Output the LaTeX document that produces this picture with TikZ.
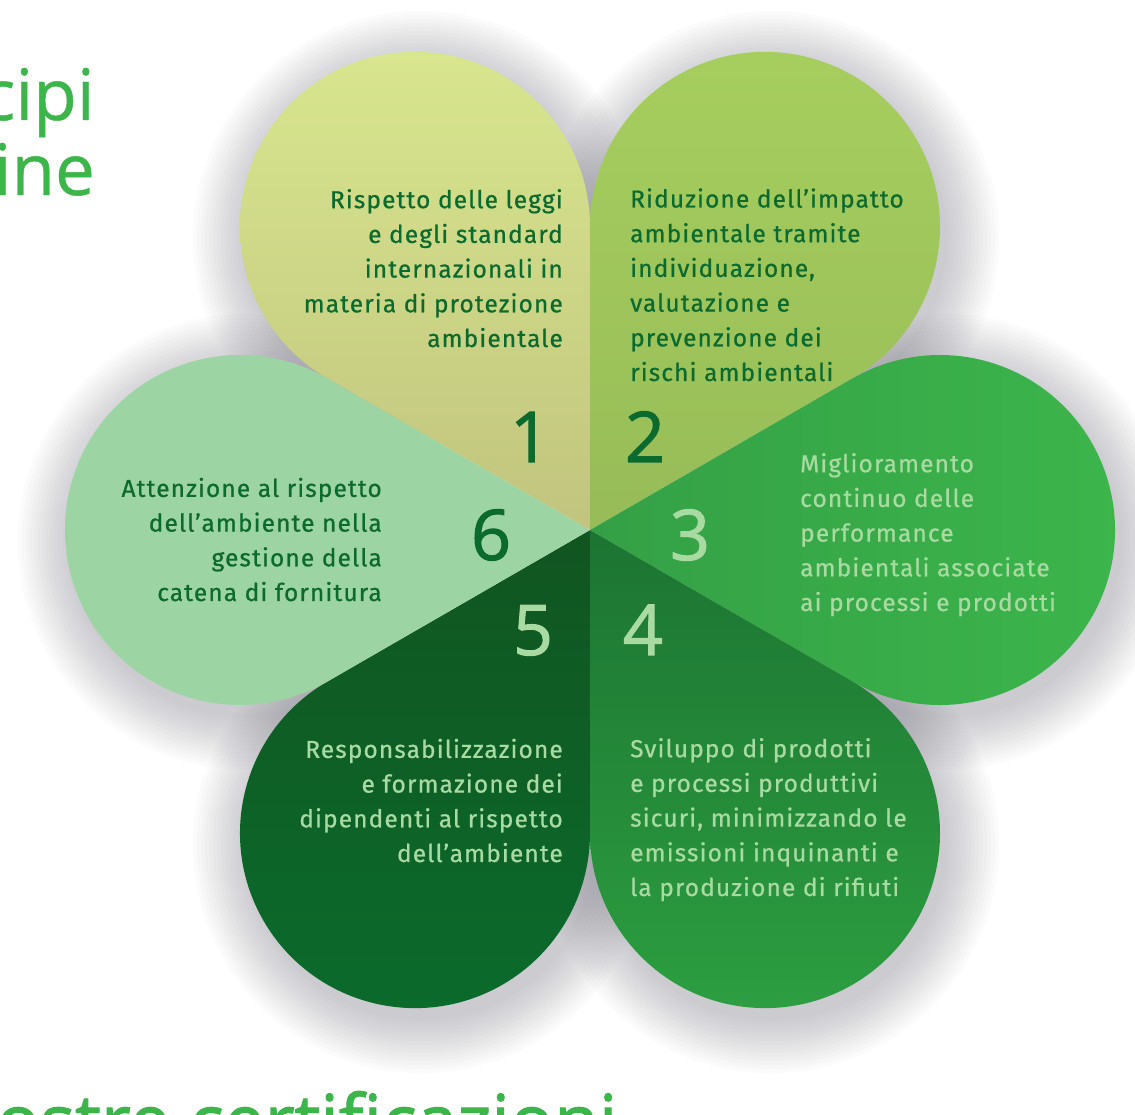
\documentclass[tikz,border=0pt]{standalone}
\usepackage{fontspec}
\setmainfont{Fira Sans}[LetterSpace=4.5, FakeBold=0.7]
\newfontfamily\numfont{Open Sans}[FakeBold=1.5]
\newfontfamily\titlefont{Open Sans}[FakeBold=0.6]
\usetikzlibrary{calc}
\definecolor{titlegreen}{HTML}{3CB54A}
\definecolor{darktext}{HTML}{0B6A2E}
\definecolor{lighttext}{HTML}{A8DAA2}
\definecolor{shadowc}{HTML}{5E5A6A}
\definecolor{pa}{HTML}{D8E68E}
\definecolor{pab}{HTML}{C1C47E}
\definecolor{pb}{HTML}{A7CF5E}
\definecolor{pbb}{HTML}{97BC58}
\definecolor{pc}{HTML}{3CB64B}
\definecolor{pcb}{HTML}{34A046}
\definecolor{pd}{HTML}{2C9E40}
\definecolor{pdb}{HTML}{1C7432}
\definecolor{pe}{HTML}{0A6C2C}
\definecolor{peb}{HTML}{115521}
\definecolor{pf}{HTML}{9DD4A3}
\tikzset{
  body/.style={font=\fontsize{24.5}{34.7}\selectfont, inner sep=0pt},
  bodyr/.style={body, align=right, anchor=base east},
  bodyl/.style={body, align=left, anchor=base west},
  num/.style={font=\numfont\fontsize{70}{70}\selectfont, inner sep=0pt, anchor=base},
  title/.style={font=\titlefont\fontsize{71}{80}\selectfont, text=titlegreen, inner sep=0pt}
}
\begin{document}
\begin{tikzpicture}[x=1pt,y=1pt]
\useasboundingbox (0,0) rectangle (1135,1114);
\clip (0,0) rectangle (1135,1114);
\fill[white] (0,0) rectangle (1135,1114);
\coordinate (apex) at (590,584);
% soft shadow
\foreach \k in {1,...,14} {
  \foreach \a in {0,60,...,300} {
    \fill[shadowc, opacity=0.024] ($(apex)+(\a:350)+(6,-12)$) circle[radius={172+4*\k}];
  }
}
% petals
\path[top color=pa, bottom color=pab] (apex) -- ++(90:303.109) arc[start angle=0, end angle=240, radius=175] -- cycle;
\path[top color=pb, bottom color=pbb] (apex) -- ++(30:303.109) arc[start angle=-60, end angle=180, radius=175] -- cycle;
\path[left color=pcb, right color=pc] (apex) -- ++(-30:303.109) arc[start angle=-120, end angle=120, radius=175] -- cycle;
\path[top color=pdb, bottom color=pd] (apex) -- ++(-90:303.109) arc[start angle=-180, end angle=60, radius=175] -- cycle;
\path[top color=peb, bottom color=pe] (apex) -- ++(-150:303.109) arc[start angle=-240, end angle=0, radius=175] -- cycle;
\path[fill=pf] (apex) -- ++(150:303.109) arc[start angle=60, end angle=300, radius=175] -- cycle;
% titles (cut off by the frame)
\node[title, anchor=base east] (t1) at (95,994) {cipi};
\node[title, anchor=base east] (t2) at (95,919) {ine};
\node[title, font=\numfont\fontsize{73}{80}\selectfont, anchor=base west] (t3) at (-4,-33) {ostre certificazioni};
% texts
\node[bodyr, text=darktext] (x1) at (563,767) {Rispetto delle leggi\\e degli standard\\internazionali in\\materia di protezione\\ambientale};
\node[bodyl, text=darktext] (x2) at (630,733) {Riduzione dell’impatto\\ambientale tramite\\individuazione,\\valutazione e\\prevenzione dei\\rischi ambientali};
\node[bodyl, text=lighttext] (x3) at (800,503) {Miglioramento\\continuo delle\\performance\\ambientali associate\\ai processi e prodotti};
\node[bodyl, text=lighttext] (x4) at (630,218) {Sviluppo di prodotti\\e processi produttivi\\sicuri, minimizzando le\\emissioni inquinanti e\\la produzione di rifiuti};
\node[bodyr, text=lighttext] (x5) at (563,252) {Responsabilizzazione\\e formazione dei\\dipendenti al rispetto\\dell’ambiente};
\node[bodyr, text=darktext] (x6) at (382,513) {Attenzione al rispetto\\dell’ambiente nella\\gestione della\\catena di fornitura};
% numbers
\node[num, text=darktext] (n1) at (530,652) {1};
\node[num, text=darktext] (n2) at (645,652) {2};
\node[num, text=lighttext] (n3) at (690,554) {3};
\node[num, text=lighttext] (n4) at (643,459) {4};
\node[num, text=lighttext] (n5) at (533,459) {5};
\node[num, text=darktext] (n6) at (491,554) {6};
\end{tikzpicture}
\end{document}
